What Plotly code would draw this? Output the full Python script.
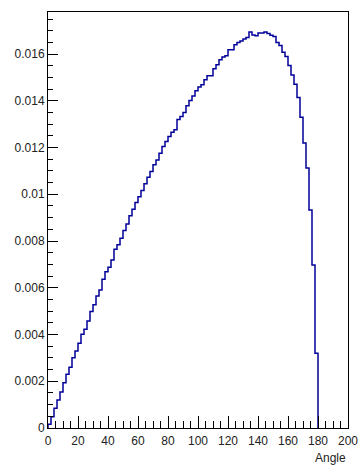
import plotly.graph_objects as go

# Histogram of angles: 90 bins of 2 degrees from 0 to 180
bin_width = 2
bin_contents = [
    0.00016, 0.00048, 0.00084, 0.00120, 0.00154, 0.00194, 0.00230, 0.00260, 0.00301, 0.00330,
    0.00363, 0.00401, 0.00423, 0.00458, 0.00498, 0.00527, 0.00565, 0.00591, 0.00637, 0.00669,
    0.00688, 0.00719, 0.00765, 0.00784, 0.00812, 0.00845, 0.00873, 0.00908, 0.00936, 0.00965,
    0.00990, 0.01016, 0.01045, 0.01073, 0.01097, 0.01126, 0.01147, 0.01176, 0.01204, 0.01226,
    0.01247, 0.01266, 0.01276, 0.01320, 0.01333, 0.01350, 0.01379, 0.01401, 0.01421, 0.01443,
    0.01459, 0.01469, 0.01490, 0.01507, 0.01507, 0.01537, 0.01554, 0.01576, 0.01587, 0.01593,
    0.01618, 0.01618, 0.01640, 0.01650, 0.01656, 0.01664, 0.01671, 0.01694, 0.01682, 0.01678,
    0.01690, 0.01690, 0.01694, 0.01688, 0.01680, 0.01675, 0.01650, 0.01637, 0.01608, 0.01590,
    0.01551, 0.01510, 0.01471, 0.01414, 0.01330, 0.01220, 0.01112, 0.00933, 0.00697, 0.00320,
]
bin_edges = [i * bin_width for i in range(len(bin_contents) + 1)]

y_tick_values = [0, 0.002, 0.004, 0.006, 0.008, 0.01, 0.012, 0.014, 0.016]
y_tick_labels = ["0", "0.002", "0.004", "0.006", "0.008", "0.01", "0.012", "0.014", "0.016"]
x_tick_values = [0, 20, 40, 60, 80, 100, 120, 140, 160, 180, 200]
x_tick_labels = [str(v) for v in x_tick_values]

# step outline: start on the baseline, one level per bin, close back to zero
xs = [bin_edges[0]] + bin_edges[:-1] + [bin_edges[-1]]
ys = [0] + bin_contents + [0]

fig = go.Figure(
    go.Scatter(
        x=xs, y=ys, mode="lines",
        line=dict(shape="hv", color="#000099", width=1.5),
        hoverinfo="skip",
    )
)

font = dict(family="Liberation Sans, Arial, sans-serif", size=12, color="#222222")

fig.update_layout(
    width=359, height=470,
    margin=dict(l=48, r=11, t=12, b=42),
    paper_bgcolor="white", plot_bgcolor="white",
    showlegend=False,
    font=font,
    xaxis=dict(
        range=[0, 200], tickvals=x_tick_values, ticktext=x_tick_labels,
        ticks="inside", ticklen=12, tickwidth=1, tickcolor="black",
        minor=dict(dtick=5, tick0=0, ticks="inside", ticklen=7, tickwidth=1, tickcolor="black", showgrid=False),
        showline=True, linecolor="black", linewidth=1, mirror=True,
        showgrid=False, zeroline=False, fixedrange=True, automargin=False,
        ticklabelstandoff=2,
    ),
    yaxis=dict(
        range=[0, 0.0178], tickvals=y_tick_values, ticktext=y_tick_labels,
        ticks="inside", ticklen=10, tickwidth=1, tickcolor="black",
        minor=dict(dtick=0.0005, tick0=0, ticks="inside", ticklen=5, tickwidth=1, tickcolor="black", showgrid=False),
        showline=True, linecolor="black", linewidth=1, mirror=True,
        showgrid=False, zeroline=False, fixedrange=True, automargin=False,
    ),
    annotations=[
        dict(
            text="Angle", xref="paper", yref="paper", x=1, y=0,
            xanchor="right", yanchor="top", yshift=-21, showarrow=False, font=font,
        )
    ],
)

fig.write_html("out.html", config={"displayModeBar": False})
